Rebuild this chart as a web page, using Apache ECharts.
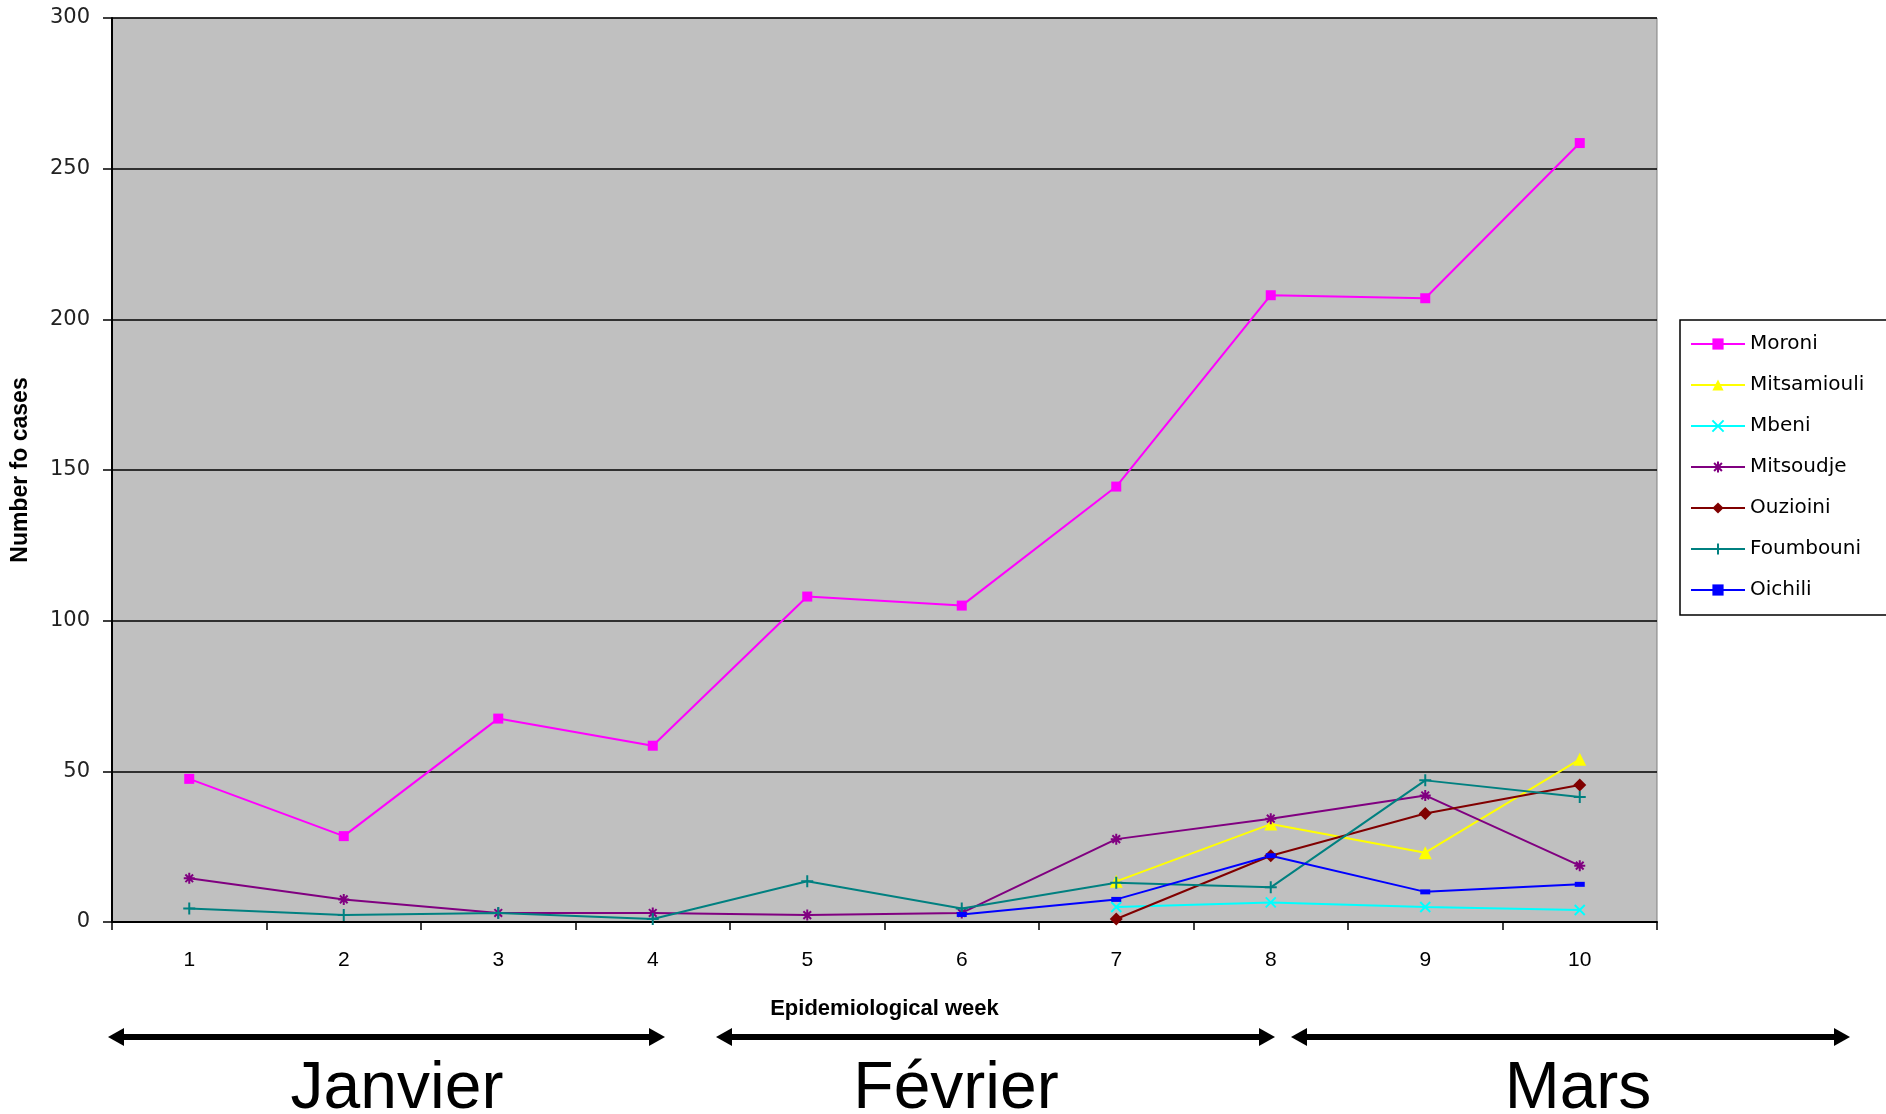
<!DOCTYPE html>
<html><head><meta charset="utf-8">
<script src="https://cdn.jsdelivr.net/npm/echarts@6/dist/echarts.min.js"></script>
<style>html,body{margin:0;padding:0;background:#fff}#c{width:1886px;height:1114px}</style>
</head><body><div id="c"></div>
<script>
const weeks = ['1','2','3','4','5','6','7','8','9','10'];
const yTicks = [0, 50, 100, 150, 200, 250, 300];
const moroni      = [47.5, 28.5, 67.5, 58.5, 108, 105, 144.5, 208, 207, 258.5];
const mitsamiouli = [null, null, null, null, null, null, 13.5, 32.5, 23, 54];
const mbeni       = [null, null, null, null, null, null, 5, 6.5, 5, 4];
const mitsoudje   = [14.5, 7.5, 3, 3, 2.3, 3, 27.5, 34.3, 42, 18.7];
const ouzioini    = [null, null, null, null, null, null, 1, 22, 36, 45.5];
const foumbouni   = [4.5, 2.3, 3, 1, 13.5, 4.5, 13, 11.5, 47, 41.5];
const oichili     = [null, null, null, null, null, 2.5, 7.5, 22, 10, 12.5];
const months = ['Janvier', 'Février', 'Mars'];

const seriesDefs = [
  {name:'Moroni', data:moroni, color:'#ff00ff', symbol:'rect', size:10},
  {name:'Mitsamiouli', data:mitsamiouli, color:'#ffff00', symbol:'triangle', size:13},
  {name:'Mbeni', data:mbeni, color:'#00ffff', symbol:'path://M0,0L10,10M10,0L0,10', size:10, stroke:true},
  {name:'Mitsoudje', data:mitsoudje, color:'#800080', symbol:'path://M5,0L5,10M0,5L10,5M1.5,1.5L8.5,8.5M8.5,1.5L1.5,8.5', size:11, stroke:true},
  {name:'Ouzioini', data:ouzioini, color:'#800000', symbol:'diamond', size:13},
  {name:'Foumbouni', data:foumbouni, color:'#008080', symbol:'path://M5,0L5,10M0,5L10,5', size:12, stroke:true},
  {name:'Oichili', data:oichili, color:'#0000ff', symbol:'rect', size:[10,5]}
];

const chart = echarts.init(document.getElementById('c'), null, {renderer:'canvas'});

function arrow(x1, x2, y) {
  const h = 9, L = 16;
  return [
    {type:'line', shape:{x1:x1+L-2, y1:y, x2:x2-L+2, y2:y}, style:{stroke:'#000', lineWidth:6}},
    {type:'polygon', shape:{points:[[x1,y],[x1+L,y-h],[x1+L,y+h]]}, style:{fill:'#000'}},
    {type:'polygon', shape:{points:[[x2,y],[x2-L,y-h],[x2-L,y+h]]}, style:{fill:'#000'}}
  ];
}
const monthX = [397, 956, 1578];
const graphics = []
  .concat(arrow(108, 665, 1037))
  .concat(arrow(716, 1275, 1037))
  .concat(arrow(1291, 1850, 1037))
  .concat(months.map((m, i) => ({
    type:'text', x:monthX[i], y:1090,
    style:{text:m, fill:'#000', font:'66px "Liberation Sans", sans-serif', textAlign:'center', textVerticalAlign:'middle'}
  })));

chart.setOption({
  animation:false,
  backgroundColor:'#ffffff',
  grid:{left:112, top:18, width:1545, height:904, show:true, backgroundColor:'#c0c0c0', borderColor:'#808080', borderWidth:1,
        containLabel:false, outerBoundsMode:'none'},
  legend:{
    orient:'vertical', left:1680, top:320,
    data: seriesDefs.map(s => s.name),
    itemWidth:54, itemHeight:14, itemGap:21,
    padding:[14, 30, 15, 10],
    borderColor:'#000', borderWidth:1.5, backgroundColor:'#fff',
    textStyle:{fontFamily:'DejaVu Sans', fontSize:20, color:'#000'}
  },
  xAxis:{
    type:'category', data:weeks, boundaryGap:true,
    name:'Epidemiological week', nameLocation:'middle', nameGap:76,
    nameTextStyle:{fontFamily:'Liberation Sans', fontWeight:'bold', fontSize:22, color:'#000'},
    axisLine:{lineStyle:{color:'#000', width:2}},
    axisTick:{show:true, length:8, lineStyle:{color:'#000', width:1.5}},
    axisLabel:{fontFamily:'Liberation Sans', fontSize:21, color:'#000', margin:28}
  },
  yAxis:{
    type:'value', min:0, max:300, interval:50,
    name:'Number fo cases', nameLocation:'middle', nameGap:80, nameRotate:90,
    nameTextStyle:{fontFamily:'Liberation Sans', fontWeight:'bold', fontSize:23, color:'#000'},
    axisLine:{show:true, lineStyle:{color:'#000', width:2}},
    axisTick:{show:true, length:9, lineStyle:{color:'#000', width:1.5}},
    axisLabel:{fontFamily:'DejaVu Sans', fontSize:21, color:'#222', margin:22,
      formatter: v => yTicks.includes(v) ? String(v) : ''},
    splitLine:{show:true, lineStyle:{color:'#000', width:1.5}}
  },
  series: seriesDefs.map(s => ({
    name:s.name, type:'line', data:s.data, connectNulls:false,
    symbol:s.symbol, symbolSize:s.size, showSymbol:true,
    lineStyle:{color:s.color, width:2},
    itemStyle: s.stroke ? {color:s.color, borderColor:s.color, borderWidth:2} : {color:s.color, borderWidth:0},
    emphasis:{disabled:true}
  })),
  graphic: graphics
});
</script></body></html>
